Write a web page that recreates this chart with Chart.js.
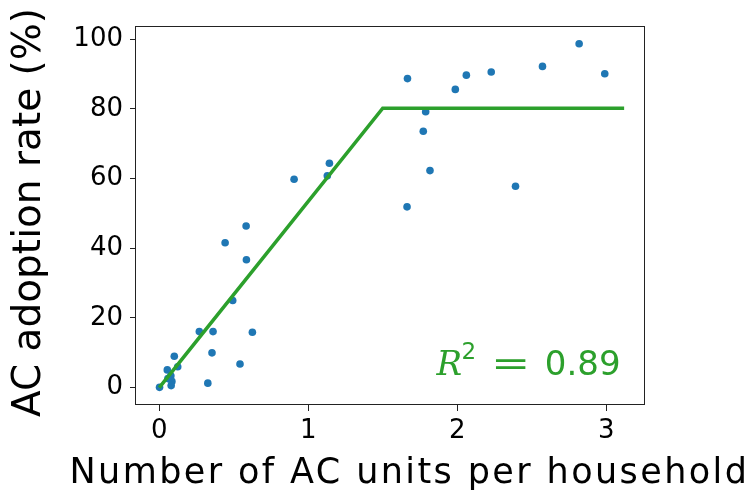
<!DOCTYPE html>
<html>
<head>
<meta charset="utf-8">
<script src="https://cdn.jsdelivr.net/npm/chart.js@4.4.1/dist/chart.umd.min.js"></script>
<style>
html,body{margin:0;padding:0;background:#ffffff;}
#wrap{width:748px;height:496px;position:relative;}
</style>
</head>
<body>
<div id="wrap"><canvas id="c" width="748" height="496"></canvas></div>
<script>
// ---- data ----
const unitsPerHousehold = [0.002, 0.054, 0.101, 0.124, 0.078, 0.058, 0.085, 0.080, 0.326,
  0.269, 0.361, 0.354, 0.542, 0.625, 0.493, 0.442, 0.585, 0.583,
  0.905, 1.128, 1.142, 1.663, 1.666, 1.772, 1.788, 1.817, 1.987,
  2.061, 2.228, 2.391, 2.572, 2.818, 2.990];
const adoptionRate = [0.1, 5.1, 9.0, 6.0, 3.4, 2.6, 1.8, 0.6, 1.3,
  16.1, 16.1, 10.0, 6.8, 15.9, 25.0, 41.6, 36.7, 46.4,
  59.8, 60.8, 64.4, 51.9, 88.7, 73.6, 79.2, 62.3, 85.6,
  89.7, 90.6, 57.8, 92.2, 98.7, 90.1];
const fitX = [0, 1.5, 3.12];
const fitY = [0, 80.2, 80.2];
const xTickValues = [0, 1, 2, 3];
const yTickValues = [0, 20, 40, 60, 80, 100];
const xTitle = 'Number of AC units per household';
const yTitle = 'AC adoption rate (%)';
const r2Value = '0.89';

const BLUE = '#1f77b4';
const GREEN = '#2ca02c';

const scatterPts = unitsPerHousehold.map((x, i) => ({x: x, y: adoptionRate[i]}));
const fitPts = fitX.map((x, i) => ({x: x, y: fitY[i]}));

const framePlugin = {
  id: 'frameAndText',
  afterDraw(chart) {
    const ctx = chart.ctx;
    const a = chart.chartArea;
    ctx.save();
    // axes frame
    ctx.strokeStyle = '#222222';
    ctx.lineWidth = 1;
    ctx.strokeRect(Math.round(a.left) - 0.5, Math.round(a.top) + 0.5,
                   Math.round(a.right) - Math.round(a.left), Math.round(a.bottom) - Math.round(a.top) - 1);

    // axis titles
    ctx.fillStyle = '#000000';
    ctx.font = '35px "DejaVu Sans"';
    ctx.textAlign = 'left';
    ctx.textBaseline = 'alphabetic';
    try { ctx.letterSpacing = '2.4px'; } catch (e) {}
    ctx.fillText(xTitle, 69.5, 483);
    try { ctx.letterSpacing = '0px'; } catch (e) {}

    ctx.save();
    ctx.font = '39px "DejaVu Sans"';
    ctx.translate(40, (a.top + a.bottom) / 2 - 3);
    ctx.rotate(-Math.PI / 2);
    ctx.textAlign = 'center';
    ctx.fillText(yTitle, 0, 0);
    ctx.restore();

    // R^2 annotation (axes-relative placement)
    const xr = a.left + 0.95 * (a.right - a.left) + 1;
    const yb = a.bottom - 0.079 * (a.bottom - a.top);
    ctx.fillStyle = GREEN;
    ctx.textBaseline = 'alphabetic';
    ctx.font = '34px "DejaVu Sans"';
    ctx.textAlign = 'right';
    ctx.fillText(r2Value, xr, yb);
    ctx.save();
    ctx.font = '34px "DejaVu Sans"';
    ctx.textAlign = 'center';
    ctx.translate(xr - 110, yb);
    ctx.scale(1.38, 1);
    ctx.fillText('=', 0, 0);
    ctx.restore();
    ctx.font = '23px "DejaVu Sans"';
    ctx.textAlign = 'left';
    ctx.fillText('2', xr - 159, yb - 16);
    ctx.font = 'italic 34px "DejaVu Serif"';
    ctx.fillText('R', xr - 184, yb);
    ctx.restore();
  }
};

const tickFont = {family: 'DejaVu Sans', size: 26};

new Chart(document.getElementById('c'), {
  type: 'scatter',
  data: {
    datasets: [
      {
        type: 'line',
        data: fitPts,
        borderColor: GREEN,
        backgroundColor: GREEN,
        borderWidth: 3.6,
        pointRadius: 0,
        fill: false,
        tension: 0,
        order: 0
      },
      {
        type: 'scatter',
        data: scatterPts,
        backgroundColor: BLUE,
        borderColor: BLUE,
        borderWidth: 0,
        pointRadius: 3.8,
        order: 1
      }
    ]
  },
  options: {
    responsive: false,
    animation: false,
    devicePixelRatio: 1,
    layout: {padding: {left: 0, right: 103, top: 26, bottom: 0}},
    plugins: {legend: {display: false}, tooltip: {enabled: false}, title: {display: false}},
    scales: {
      x: {
        type: 'linear',
        min: -0.156,
        max: 3.26,
        afterBuildTicks: s => { s.ticks = xTickValues.map(v => ({value: v})); },
        afterFit: s => { s.height = 91; },
        ticks: {font: tickFont, color: '#000000', padding: 5, autoSkip: false, maxRotation: 0,
                callback: v => String(v)},
        grid: {drawOnChartArea: false, drawTicks: true, tickLength: 6, color: '#222222', lineWidth: 1},
        border: {display: false}
      },
      y: {
        type: 'linear',
        min: -4.97,
        max: 103.8,
        afterBuildTicks: s => { s.ticks = yTickValues.map(v => ({value: v})); },
        afterFit: s => { s.width = 136; },
        ticks: {font: tickFont, color: '#000000', padding: 7, autoSkip: false,
                callback: v => String(v)},
        grid: {drawOnChartArea: false, drawTicks: true, tickLength: 6, color: '#222222', lineWidth: 1},
        border: {display: false}
      }
    }
  },
  plugins: [framePlugin]
});
</script>
</body>
</html>
